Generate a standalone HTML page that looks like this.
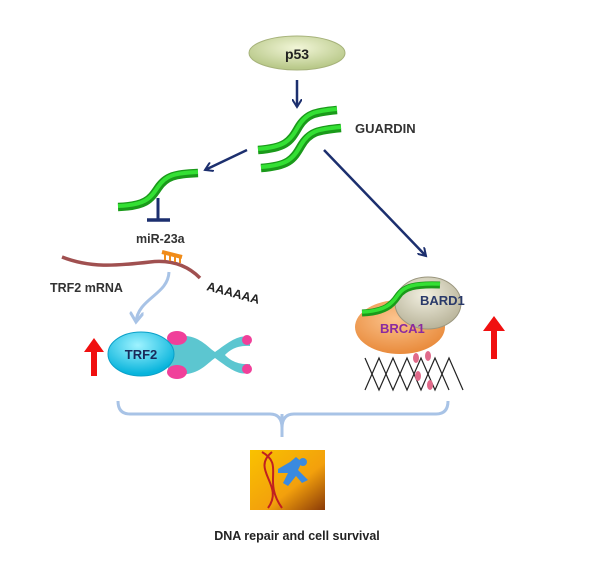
<!DOCTYPE html>
<html><head><style>
body{margin:0;background:#fff;}
svg text{font-family:"Liberation Sans",sans-serif;font-weight:bold;}
</style></head><body>
<svg width="605" height="577" viewBox="0 0 605 577" xmlns="http://www.w3.org/2000/svg">
<defs>
<radialGradient id="gp" cx="50%" cy="35%" r="60%"><stop offset="0" stop-color="#f2f6d8"/><stop offset="1" stop-color="#b9c98a"/></radialGradient>
<radialGradient id="gt" cx="45%" cy="30%" r="65%"><stop offset="0" stop-color="#9ff3ff"/><stop offset="1" stop-color="#08b4dc"/></radialGradient>
<radialGradient id="gb" cx="45%" cy="35%" r="65%"><stop offset="0" stop-color="#fbc48e"/><stop offset="1" stop-color="#e98b3c"/></radialGradient>
<radialGradient id="gd" cx="45%" cy="35%" r="65%"><stop offset="0" stop-color="#f1efe0"/><stop offset="1" stop-color="#b9b49a"/></radialGradient>
<linearGradient id="gi" x1="0" y1="0" x2="1" y2="1"><stop offset="0" stop-color="#f9c200"/><stop offset="0.6" stop-color="#f3a00c"/><stop offset="1" stop-color="#8a3a08"/></linearGradient>
<marker id="ah" markerWidth="10" markerHeight="10" refX="8" refY="5" orient="auto" markerUnits="userSpaceOnUse"><path d="M0,0 L8,5 L0,10" fill="none" stroke="#1c2f6e" stroke-width="2"/></marker>
<marker id="al" markerWidth="14" markerHeight="14" refX="10" refY="7" orient="auto" markerUnits="userSpaceOnUse"><path d="M0,0 L10,7 L0,14" fill="none" stroke="#a8c3e6" stroke-width="3"/></marker>
</defs>
<ellipse cx="297" cy="53" rx="48" ry="17" fill="url(#gp)" stroke="#a6b27a"/>
<text x="297" y="59" font-size="14" text-anchor="middle" fill="#222">p53</text>
<line x1="297" y1="80" x2="297" y2="107" stroke="#1c2f6e" stroke-width="2.5" marker-end="url(#ah)"/>
<g fill="none" stroke="#1a9a1a" stroke-width="8.5">
<path d="M258,150 C285,148 290,142 298,128 C306,114 315,112 337,110"/>
<path d="M261,168 C288,166 293,160 301,146 C309,132 318,130 341,128"/>
</g>
<g fill="none" stroke="#34e034" stroke-width="4">
<path d="M258,149 C285,147 290,141 298,127 C306,113 315,111 337,109"/>
<path d="M261,167 C288,165 293,159 301,145 C309,131 318,129 341,127"/>
</g>
<text x="355" y="133" font-size="13" fill="#333">GUARDIN</text>
<line x1="247" y1="150" x2="205" y2="170" stroke="#1c2f6e" stroke-width="2.5" marker-end="url(#ah)"/>
<line x1="324" y1="150" x2="426" y2="256" stroke="#1c2f6e" stroke-width="2.5" marker-end="url(#ah)"/>
<path d="M118,207 C145,206 150,200 158,188 C166,176 175,174 198,173" fill="none" stroke="#1a9a1a" stroke-width="8.5"/>
<path d="M118,206 C145,205 150,199 158,187 C166,175 175,173 198,172" fill="none" stroke="#34e034" stroke-width="4"/>
<line x1="158" y1="198" x2="158" y2="219" stroke="#1c2f6e" stroke-width="3"/>
<line x1="147" y1="220" x2="170" y2="220" stroke="#1c2f6e" stroke-width="3.5"/>
<text x="136" y="243" font-size="12.5" fill="#333">miR-23a</text>
<path d="M62,257 C90,268 115,266 150,262 C175,259 190,268 200,278" fill="none" stroke="#a05050" stroke-width="3.5"/>
<path d="M162,252 L182,257" stroke="#f08c1a" stroke-width="4"/>
<g stroke="#f08c1a" stroke-width="2"><line x1="165" y1="253" x2="165" y2="260"/><line x1="170" y1="254" x2="170" y2="261"/><line x1="175" y1="255" x2="175" y2="262"/><line x1="180" y1="256" x2="180" y2="263"/></g>
<text x="50" y="292" font-size="12.5" fill="#333">TRF2 mRNA</text>
<text x="206" y="290" font-size="12.5" fill="#222" transform="rotate(15 206 290)">AAAAAA</text>
<path d="M169,272 C168,295 138,298 136,322" fill="none" stroke="#a8c3e6" stroke-width="3" marker-end="url(#al)"/>
<path d="M168,338 C195,330 205,345 215,352 C225,345 240,332 250,338 L250,346 C235,345 228,352 225,355 C228,358 235,365 250,364 L250,372 C240,378 225,365 215,358 C205,365 195,380 168,372 Z" fill="#5cc6d0"/>
<ellipse cx="177" cy="338" rx="10" ry="7" fill="#f0409a"/>
<ellipse cx="177" cy="372" rx="10" ry="7" fill="#f0409a"/>
<ellipse cx="247" cy="340" rx="5" ry="5" fill="#f0409a"/>
<ellipse cx="247" cy="369" rx="5" ry="5" fill="#f0409a"/>
<ellipse cx="141" cy="354" rx="33" ry="22" fill="url(#gt)" stroke="#0aa0c8"/>
<text x="141" y="359" font-size="13" text-anchor="middle" fill="#1a2a5a">TRF2</text>
<path d="M91,376 L91,352 L84,352 L94,338 L104,352 L97,352 L97,376 Z" fill="#f01010"/>
<path d="M491,359 L491,331 L483,331 L494,316 L505,331 L497,331 L497,359 Z" fill="#f01010"/>
<g fill="none" stroke="#222" stroke-width="1.2">
<path d="M365,358 q7,16 14,32 q7,-16 14,-32 q7,16 14,32 q7,-16 14,-32 q7,16 14,32 q7,-16 14,-32 q7,16 14,32"/>
<path d="M365,390 q7,-16 14,-32 q7,16 14,32 q7,-16 14,-32 q7,16 14,32 q7,-16 14,-32 q7,16 14,32"/>
</g>
<g fill="#e06a8a"><ellipse cx="416" cy="358" rx="3" ry="5"/><ellipse cx="428" cy="356" rx="3" ry="5"/><ellipse cx="418" cy="376" rx="3" ry="5"/><ellipse cx="430" cy="385" rx="3" ry="5"/></g>
<ellipse cx="400" cy="327" rx="45" ry="27" fill="url(#gb)"/>
<ellipse cx="428" cy="303" rx="33" ry="26" fill="url(#gd)" stroke="#9a967e"/>
<path d="M362,313 C385,312 392,305 398,296 C404,287 415,284 440,285" fill="none" stroke="#1a9a1a" stroke-width="7"/>
<path d="M362,312 C385,311 392,304 398,295 C404,286 415,283 440,284" fill="none" stroke="#34e034" stroke-width="3.5"/>
<text x="420" y="305" font-size="13" fill="#2a3a6a">BARD1</text>
<text x="380" y="333" font-size="13" fill="#8a2aa0">BRCA1</text>
<path d="M118,401 Q118,414 130,414 L270,414 Q282,414 282,428 Q282,414 294,414 L436,414 Q448,414 448,401" fill="none" stroke="#a8c3e6" stroke-width="3"/>
<line x1="282" y1="414" x2="282" y2="437" stroke="#a8c3e6" stroke-width="3"/>
<rect x="250" y="450" width="75" height="60" fill="url(#gi)"/>
<path d="M262,452 C285,465 262,480 282,508 M272,452 C250,470 285,485 268,508" fill="none" stroke="#c02020" stroke-width="2"/>
<path d="M290,462 l6,-5 l6,5 l-4,8 l10,10 l-6,3 l-6,-7 l-8,10 l-5,-3 l5,-10 l-10,0 l0,-4 z" fill="#3a8ae0"/>
<circle cx="303" cy="462" r="4" fill="#3a8ae0"/>
<text x="297" y="540" font-size="12.5" text-anchor="middle" fill="#222">DNA repair and cell survival</text>
</svg>
</body></html>
